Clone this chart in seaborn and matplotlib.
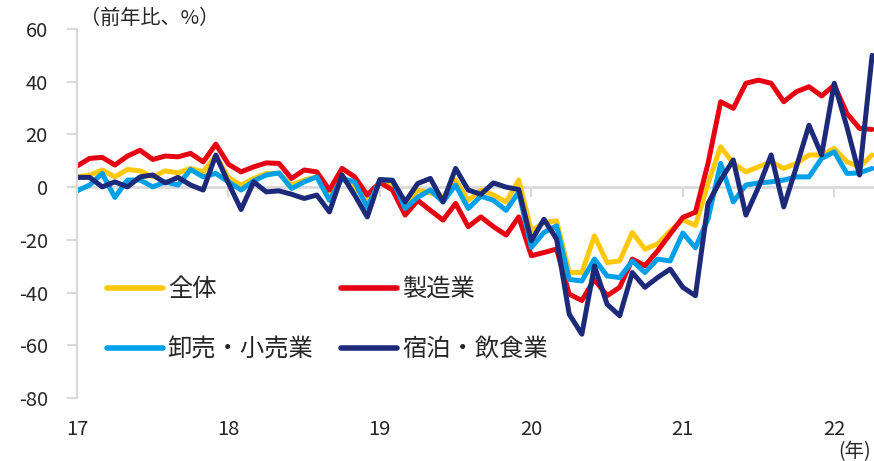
import matplotlib
matplotlib.use('Agg')
import matplotlib.pyplot as plt
import numpy as np
import pandas as pd
import seaborn as sns

# 2017年1月～2022年4月の月次データ（前年比、%）
year_labels = ['17', '18', '19', '20', '21', '22']
months = np.arange(64)

zentai = [3.9, 4.6, 6.5, 3.9, 6.7, 6.2, 3.9, 6.2, 5.4, 7.1, 5.8, 11.8,
          3.6, 0.8, 3.3, 5.2, 5.2, 0.8, 2.7, 3.9, -4.0, 3.3, 0.0, -5.0,
          2.0, 1.4, -7.2, -1.1, -2.2, -3.9, 2.7, -5.0, -1.1, -3.0, -5.6, 2.7,
          -16.6, -13.4, -12.8, -32.4, -32.4, -18.5, -28.6, -28.0, -17.2, -23.5, -21.6, -16.6,
          -12.4, -14.5, 1.4, 15.3, 9.0, 5.8, 7.7, 9.6, 7.1, 9.0, 12.2, 12.2,
          14.7, 9.6, 7.7, 12.2]
seizo = [8.0, 10.9, 11.3, 8.4, 11.8, 14.0, 10.5, 11.8, 11.5, 12.8, 9.6, 16.3,
         8.7, 5.8, 7.7, 9.2, 9.0, 3.3, 6.5, 5.8, -1.1, 7.1, 3.9, -3.0,
         1.8, -1.1, -10.6, -5.0, -8.8, -12.5, -6.2, -15.0, -11.3, -15.0, -18.2, -11.3,
         -26.0, -24.8, -23.5, -40.6, -43.0, -35.0, -41.2, -38.0, -27.3, -29.8, -24.2, -17.8,
         -11.5, -9.5, 9.0, 32.4, 29.9, 39.4, 40.6, 39.4, 32.4, 36.2, 38.1, 34.6,
         38.7, 28.0, 22.3, 21.9]
oroshi = [-1.4, 0.8, 5.2, -3.9, 2.7, 2.7, 0.1, 2.0, 0.8, 6.7, 3.9, 5.2,
          2.0, -1.1, 2.4, 4.6, 5.4, -0.5, 2.0, 3.9, -5.0, 3.3, 2.0, -7.7,
          2.7, 2.7, -8.1, -3.8, -1.1, -5.6, 0.8, -8.1, -3.4, -5.0, -8.8, -1.8,
          -22.9, -17.2, -14.7, -35.0, -35.6, -27.3, -33.7, -34.3, -28.0, -32.4, -27.3, -28.0,
          -17.4, -23.0, -12.0, 9.0, -5.6, 0.8, 1.6, 2.0, 2.7, 3.9, 3.9, 10.9,
          13.4, 5.2, 5.4, 7.1]
shukuhaku = [3.7, 3.7, 0.1, 2.0, 0.1, 3.9, 4.6, 1.6, 3.7, 0.8, -1.1, 12.2,
             1.5, -8.5, 2.0, -1.8, -1.4, -2.7, -4.3, -3.0, -9.4, 4.6, -3.0, -11.3,
             2.9, 2.5, -5.6, 1.4, 3.3, -5.6, 7.1, -1.1, -2.7, 1.6, 0.0, -0.9,
             -20.4, -12.2, -19.7, -48.2, -55.8, -29.9, -44.4, -48.8, -32.4, -38.0, -34.3, -31.1,
             -38.0, -41.2, -6.2, 2.7, 10.3, -10.6, 0.0, 12.2, -7.5, 7.7, 23.5, 12.2,
             39.4, 22.9, 4.6, 50.0]

labels = ['全体', '製造業', '卸売・小売業', '宿泊・飲食業']
colors = ['#FFC80A', '#E60012', '#00A0E9', '#1D2A7A']

df = pd.DataFrame({
    'month': np.tile(months, 4),
    'value': zentai + seizo + oroshi + shukuhaku,
    'series': np.repeat(labels, len(months)),
})

sns.set_theme(style='white')
plt.rcParams['font.family'] = ['Noto Sans CJK JP', 'DejaVu Sans']
plt.rcParams['axes.unicode_minus'] = False

fig = plt.figure(figsize=(8.74, 4.61), dpi=100)
ax = fig.add_axes([77 / 874, 1 - 398 / 461, 797 / 874, 369 / 461])

sns.lineplot(data=df, x='month', y='value', hue='series', hue_order=labels,
             palette=colors, linewidth=3.6, ax=ax)

# 凡例（2列、列順を並べ替え）
handles, lbls = ax.get_legend_handles_labels()
hmap = dict(zip(lbls, handles))
order = ['全体', '卸売・小売業', '製造業', '宿泊・飲食業']
leg = ax.legend([hmap[k] for k in order], order, ncol=2, loc='upper left',
                bbox_to_anchor=(0.0376, 0.33), frameon=False, fontsize=17.5,
                handlelength=2.3, columnspacing=1.15, labelspacing=1.4,
                borderpad=0, borderaxespad=0, handletextpad=0.2)
for h in leg.legend_handles:
    h.set_linewidth(4)

grey = '#D9D9D9'
ax.set_xlim(0, 63.15)
ax.set_ylim(-80, 60)
ax.set_yticks(range(-80, 61, 20))
ax.set_xticks(range(0, 61, 12))
ax.set_xticklabels(year_labels)
ax.set_xlabel('')
ax.set_ylabel('')

for s in ['top', 'right']:
    ax.spines[s].set_visible(False)
ax.spines['left'].set_color(grey)
ax.spines['left'].set_linewidth(1.5)
ax.spines['bottom'].set_position(('data', 0))
ax.spines['bottom'].set_color(grey)
ax.spines['bottom'].set_linewidth(2)
ax.spines['bottom'].set_zorder(0.5)

ax.tick_params(axis='y', length=7, width=1.5, color=grey, direction='out',
               labelsize=14.5, pad=14, left=True)
ax.tick_params(axis='x', length=7, width=1.5, color=grey, direction='out',
               labelsize=14.5, pad=160, bottom=True)

fig.text(80 / 874, 1 - 18 / 461, '（前年比、%）', fontsize=14.5, va='center', ha='left')
fig.text(855 / 874, 1 - 452 / 461, '(年)', fontsize=14, va='center', ha='center')

fig.savefig('out.png', dpi=100)
